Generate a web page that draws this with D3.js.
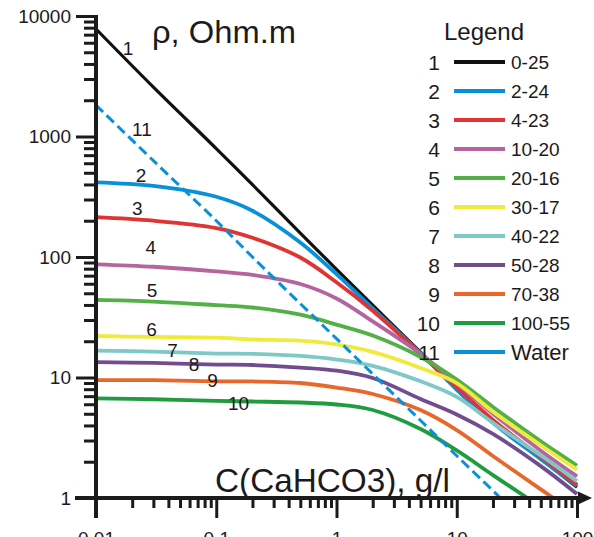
<!DOCTYPE html>
<html>
<head>
<meta charset="utf-8">
<script src="https://cdn.jsdelivr.net/npm/d3@7"></script>
<style>
  html, body { margin: 0; padding: 0; background: #fff; }
  svg { display: block; font-family: "Liberation Sans", Arial, sans-serif; }
</style>
</head>
<body>
<svg id="chart" width="594" height="537"></svg>
<script>
// Concentration grid (g/l) shared by every curve
const conc = [0.01, 0.03, 0.1, 0.2, 0.5, 1, 2, 5, 10, 20, 50, 100];

// Resistivity (Ohm.m) of each mixture at the concentrations above
const rho_0_25   = [7800, 2570, 794, 398, 158, 79, 39.8, 16.2, 8.1, 4.4, 2.12, 1.23];
const rho_2_24   = [417, 389, 316, 242, 132, 72, 37.5, 15.9, 7.9, 4.2, 2.1, 1.26];
const rho_4_23   = [214, 200, 174, 144.5, 99, 61.7, 35.8, 15.7, 8.3, 4.45, 2.2, 1.29];
const rho_10_20  = [87, 83, 76, 71, 59.7, 45.3, 29.2, 15.7, 8.9, 5.0, 2.47, 1.51];
const rho_20_16  = [44, 42.7, 39.8, 38.1, 33.2, 27.5, 22.3, 14.8, 9.6, 5.7, 2.95, 1.86];
const rho_30_17  = [22.1, 21.7, 21.4, 20.7, 20.2, 18.8, 16.3, 12.0, 9.0, 5.2, 2.74, 1.72];
const rho_40_22  = [16.7, 16.4, 15.8, 15.7, 15.1, 14.1, 12.5, 9.3, 6.9, 4.2, 2.25, 1.38];
const rho_50_28  = [13.4, 13.2, 12.8, 12.7, 12.1, 11.4, 9.9, 6.63, 4.93, 3.4, 1.84, 1.08];
const rho_70_38  = [9.5, 9.5, 9.3, 9.27, 9.0, 8.26, 7.3, 5.37, 3.66, 2.23, 1.18, null];
const rho_100_55 = [6.7, 6.6, 6.4, 6.32, 6.2, 5.97, 5.37, 3.74, 2.48, 1.55, null, null];
const rho_water  = [1820, 630, 200, 100, 41, 21, 10.7, 4.4, 2.24, 1.15, null, null];

// Concentration where a curve reaches the bottom of the plot (ρ = 1)
const exitConc = [null, null, null, null, null, null, null, null, 63.5, 38.7, 23];

const seriesNames  = ["0-25", "2-24", "4-23", "10-20", "20-16", "30-17", "40-22", "50-28", "70-38", "100-55", "Water"];
const seriesNums   = ["1", "2", "3", "4", "5", "6", "7", "8", "9", "10", "11"];
const seriesColors = ["#111111", "#0a90d8", "#e03433", "#b4659f", "#53b046", "#f0ea3c", "#7fc8c8", "#714c8f", "#e8672d", "#1f9b40", "#0a90d8"];
const seriesRho    = [rho_0_25, rho_2_24, rho_4_23, rho_10_20, rho_20_16, rho_30_17, rho_40_22, rho_50_28, rho_70_38, rho_100_55, rho_water];

// Curve number labels: text and anchor point [concentration, ρ]
const curveLabelText = ["1", "11", "2", "3", "4", "5", "6", "7", "8", "9", "10"];
const curveLabelAt = [[0.0185, 5370], [0.0241, 1143], [0.0237, 479], [0.0221, 253], [0.0286, 120],
                      [0.0292, 53.2], [0.029, 25.3], [0.0433, 16.75], [0.0653, 12.94], [0.0931, 9.44], [0.153, 6.09]];

// Axis ticks
const xMajor = [0.01, 0.1, 1, 10, 100];
const xMajorLabels = ["0.01", "0.1", "1", "10", "100"];
const yMajor = [1, 10, 100, 1000, 10000];
const yMajorLabels = ["1", "10", "100", "1000", "10000"];

const svg = d3.select("#chart");
const ink = "#1c1a1b";

const x = d3.scaleLog().domain([0.01, 100]).range([96, 577]);
const y = d3.scaleLog().domain([1, 10000]).range([498, 16]);

// minor ticks for each decade (2..9)
function minorTicks(lo, hi) {
  const out = [];
  for (let d = lo; d < hi; d *= 10) for (let k = 2; k <= 9; k++) out.push(+(d * k).toPrecision(3));
  return out;
}
const xMinor = minorTicks(0.01, 100);
const yMinor = minorTicks(1, 10000);

// ----- curves -----
const line = d3.line()
  .x(d => x(d[0]))
  .y(d => y(d[1]))
  .curve(d3.curveCatmullRom.alpha(0.5));

const curves = svg.append("g");
seriesRho.forEach((vals, i) => {
  const pts = conc.map((c, j) => [c, vals[j]]).filter(p => p[1] != null);
  if (exitConc[i] != null) pts.push([exitConc[i], 1]);
  const isWater = i === 10;
  curves.append("path")
    .attr("d", line(pts))
    .attr("fill", "none")
    .attr("stroke", seriesColors[i])
    .attr("stroke-width", i === 0 ? 3.2 : (isWater ? 3 : 3.8))
    .attr("stroke-dasharray", isWater ? "10,5" : null)
    .attr("stroke-linecap", "butt");
});

// ----- curve number labels -----
svg.append("g").selectAll("text")
  .data(curveLabelAt)
  .join("text")
  .attr("x", d => x(d[0]))
  .attr("y", d => y(d[1]))
  .attr("dy", "0.36em")
  .attr("text-anchor", "middle")
  .attr("font-size", 19)
  .attr("fill", ink)
  .text((d, i) => curveLabelText[i]);

// ----- y axis -----
const yAxis = d3.axisLeft(y)
  .tickValues(yMajor.concat(yMinor))
  .tickSize(20)
  .tickSizeOuter(0)
  .tickPadding(5)
  .tickFormat(v => { const k = yMajor.indexOf(v); return k >= 0 ? yMajorLabels[k] : ""; });
const gy = svg.append("g").attr("transform", "translate(96,0)").call(yAxis);
gy.select(".domain").remove();
gy.selectAll(".tick line").attr("stroke", ink).attr("stroke-width", 3)
  .filter(v => yMajor.indexOf(v) < 0).attr("x2", -12);
gy.selectAll(".tick text").attr("font-size", 19).attr("fill", ink)
  .attr("font-family", "Liberation Sans, Arial, sans-serif");

// ----- x axis -----
const xAxis = d3.axisBottom(x)
  .tickValues(xMajor.concat(xMinor))
  .tickSize(20)
  .tickSizeOuter(0)
  .tickPadding(14)
  .tickFormat(v => { const k = xMajor.indexOf(v); return k >= 0 ? xMajorLabels[k] : ""; });
const gx = svg.append("g").attr("transform", "translate(0,498)").call(xAxis);
gx.select(".domain").remove();
gx.selectAll(".tick line").attr("stroke", ink).attr("stroke-width", 3)
  .filter(v => xMajor.indexOf(v) < 0).attr("y2", 10);
gx.selectAll(".tick text").attr("font-size", 19).attr("fill", ink)
  .attr("font-family", "Liberation Sans, Arial, sans-serif");

// axis lines and arrow head
svg.append("line").attr("x1", 96).attr("x2", 96).attr("y1", 15).attr("y2", 518)
  .attr("stroke", ink).attr("stroke-width", 4);
svg.append("line").attr("x1", 75).attr("x2", 580).attr("y1", 498).attr("y2", 498)
  .attr("stroke", ink).attr("stroke-width", 4);
svg.append("path").attr("d", "M578,491.5 L592,498 L578,504.5 Z").attr("fill", ink);

// ----- axis titles -----
svg.append("text").attr("x", 152).attr("y", 43)
  .attr("font-size", 31).attr("fill", ink)
  .attr("textLength", 144).attr("lengthAdjust", "spacingAndGlyphs")
  .text("ρ, Ohm.m");
svg.append("text").attr("x", 215).attr("y", 492)
  .attr("font-size", 32.5).attr("fill", ink)
  .attr("textLength", 235).attr("lengthAdjust", "spacingAndGlyphs")
  .text("C(CaHCO3), g/l");

// ----- legend -----
const rowY = d3.scalePoint().domain(d3.range(seriesNames.length)).range([62, 352]);
const legend = svg.append("g");
legend.append("text").attr("x", 484).attr("y", 40).attr("text-anchor", "middle")
  .attr("font-size", 24).attr("fill", ink).text("Legend");
const rows = legend.selectAll("g.row").data(seriesNames).join("g").attr("class", "row")
  .attr("transform", (d, i) => `translate(0,${rowY(i)})`);
rows.append("text").attr("x", 440).attr("y", 0).attr("dy", "0.36em")
  .attr("text-anchor", "end").attr("font-size", 21).attr("fill", ink)
  .text((d, i) => seriesNums[i]);
rows.append("line").attr("x1", 454).attr("x2", 505).attr("y1", 0).attr("y2", 0)
  .attr("stroke", (d, i) => seriesColors[i]).attr("stroke-width", 4.2);
rows.append("text").attr("x", 511).attr("y", 0).attr("dy", "0.36em")
  .attr("font-size", (d, i) => i === 10 ? 22 : 19).attr("fill", ink)
  .text(d => d);
</script>
</body>
</html>
